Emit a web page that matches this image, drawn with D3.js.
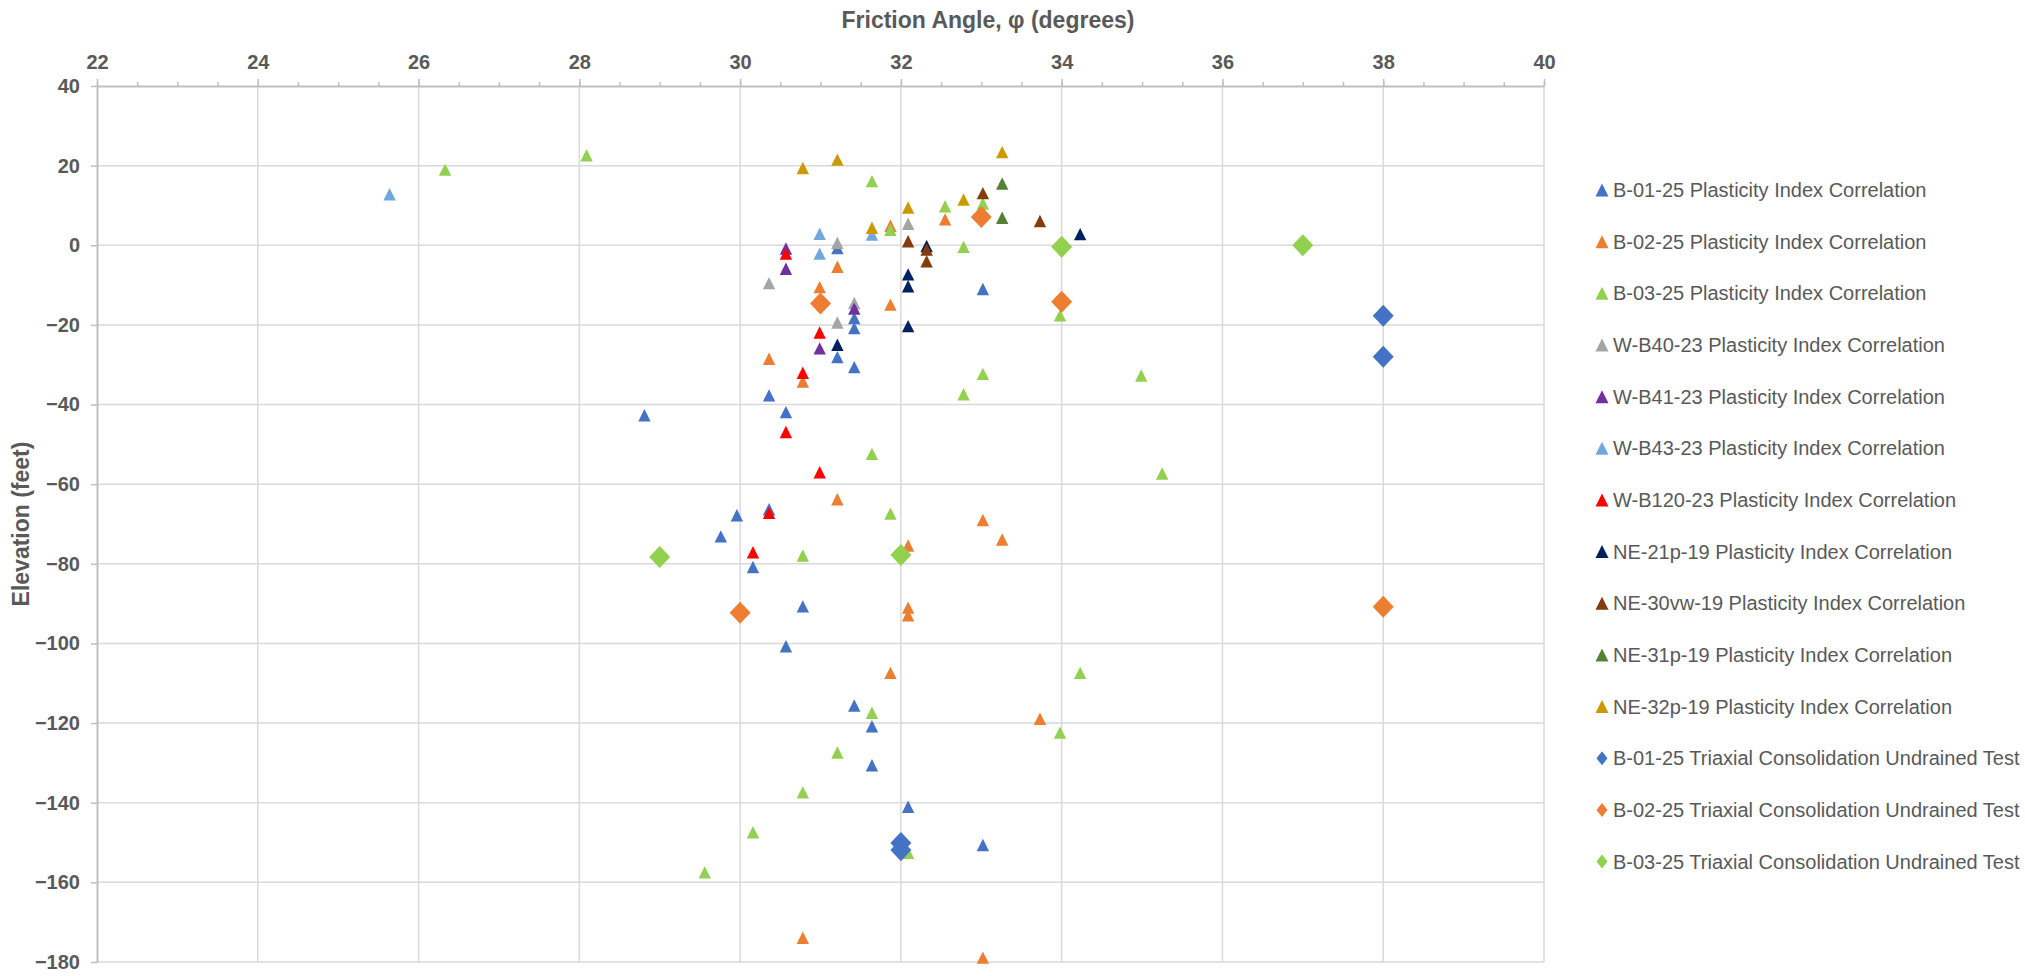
<!DOCTYPE html>
<html>
<head>
<meta charset="utf-8">
<script src="https://cdn.jsdelivr.net/npm/d3@7"></script>
<style>
  body { margin: 0; background: #fff; }
  text { font-family: "Liberation Sans", Arial, sans-serif; fill: #595959; }
  .tick-lbl text { font-weight: bold; }
  .axis-title { font-weight: bold; font-size: 23px; }
  .legend text { font-size: 20px; }
</style>
</head>
<body>
<div id="chart"></div>
<script>
// friction angle (deg), elevation (ft)
var b0125PI = [[28.81,-42.7],[29.76,-73.1],[29.96,-67.8],[30.16,-80.8],[30.36,-37.7],[30.36,-66.3],[30.57,-41.9],[30.57,-100.7],[30.78,-90.7],[31.21,-0.7],[31.21,-28.1],[31.42,-18.3],[31.42,-20.8],[31.42,-30.6],[31.42,-115.6],[31.64,-120.8],[31.64,-130.6],[32.09,-141.0],[33.02,-11.0],[33.02,-150.6]];
var b0225PI = [[30.36,-28.5],[30.78,-34.2],[30.78,-173.9],[30.99,-10.5],[31.21,-5.4],[31.21,-63.8],[31.87,4.9],[31.87,-14.9],[31.87,-107.4],[32.09,-75.4],[32.09,-91.0],[32.09,-92.9],[32.55,6.5],[33.02,-69.0],[33.02,-178.9],[33.26,-73.9],[33.73,-118.9]];
var b0325PI = [[26.33,19.0],[28.09,22.6],[29.56,-157.5],[30.16,-147.4],[30.78,-77.9],[30.78,-137.4],[31.21,-127.4],[31.64,16.1],[31.64,-52.4],[31.64,-117.4],[31.87,3.9],[31.87,-67.4],[32.09,-152.6],[32.55,9.8],[32.78,-0.4],[32.78,-37.4],[33.02,10.5],[33.02,-32.3],[33.98,-17.6],[33.98,-122.4],[34.23,-107.4],[34.99,-32.7],[35.25,-57.3]];
var wb40PI = [[30.36,-9.5],[31.21,0.6],[31.21,-19.4],[31.42,-14.5],[32.09,5.4]];
var wb41PI = [[30.57,-0.8],[30.57,-5.9],[30.99,-25.9],[31.42,-15.9]];
var wb43PI = [[25.64,12.8],[30.99,2.9],[30.99,-2.1],[31.64,2.7]];
var wb120PI = [[30.57,-2.1],[30.78,-32.0],[30.57,-46.9],[30.99,-21.9],[30.99,-57.0],[30.36,-67.2],[30.16,-77.1]];
var ne21PI = [[31.21,-25.0],[32.09,-7.3],[32.09,-10.3],[32.09,-20.3],[32.32,-0.2],[34.23,2.8]];
var ne30PI = [[32.09,1.0],[32.32,-1.1],[32.32,-4.0],[33.02,13.1],[33.73,6.1]];
var ne31PI = [[33.26,15.5],[33.26,6.9]];
var ne32PI = [[30.78,19.4],[31.21,21.5],[31.64,4.4],[32.09,9.5],[32.78,11.5],[33.26,23.4]];
var b0125CU = [[38,-17.7],[38,-28.0],[32,-150.1],[32,-151.9]];
var b0225CU = [[31,-14.6],[33,7.1],[34,-14.2],[30,-92.3],[38,-90.8]];
var b0325CU = [[34,-0.4],[37,0.0],[29,-78.3],[32,-77.8]];

var seriesNames = [
    "B-01-25 Plasticity Index Correlation",
    "B-02-25 Plasticity Index Correlation",
    "B-03-25 Plasticity Index Correlation",
    "W-B40-23 Plasticity Index Correlation",
    "W-B41-23 Plasticity Index Correlation",
    "W-B43-23 Plasticity Index Correlation",
    "W-B120-23 Plasticity Index Correlation",
    "NE-21p-19 Plasticity Index Correlation",
    "NE-30vw-19 Plasticity Index Correlation",
    "NE-31p-19 Plasticity Index Correlation",
    "NE-32p-19 Plasticity Index Correlation",
    "B-01-25 Triaxial Consolidation Undrained Test",
    "B-02-25 Triaxial Consolidation Undrained Test",
    "B-03-25 Triaxial Consolidation Undrained Test"
];
var seriesData = [b0125PI, b0225PI, b0325PI, wb40PI, wb41PI, wb43PI, wb120PI, ne21PI, ne30PI, ne31PI, ne32PI, b0125CU, b0225CU, b0325CU];
var seriesColors = ["#4472C4", "#ED7D31", "#92D050", "#A5A5A5", "#7030A0", "#70A8DE", "#FF0000", "#002060", "#843C0C", "#548235", "#CC9A00", "#4472C4", "#ED7D31", "#92D050"];
var seriesShapes = ["tri", "tri", "tri", "tri", "tri", "tri", "tri", "tri", "tri", "tri", "tri", "dia", "dia", "dia"];

var xTicks = d3.range(22, 41, 2);
var yTicks = d3.range(-180, 41, 20);

var margin = {top: 86, right: 481, bottom: 14, left: 97},
    width = 2025 - margin.left - margin.right,
    height = 976 - margin.top - margin.bottom;

var x = d3.scaleLinear().domain([22, 40]).range([0, width]);
var y = d3.scaleLinear().domain([-180, 40]).range([height, 0]);

var svg = d3.select("#chart").append("svg")
    .attr("width", 2025)
    .attr("height", 976);

var g = svg.append("g")
    .attr("transform", "translate(" + margin.left + "," + margin.top + ")");

// gridlines
g.selectAll(".vgrid")
    .data(xTicks.slice(1))
  .enter().append("line")
    .attr("x1", function(d) { return x(d); })
    .attr("x2", function(d) { return x(d); })
    .attr("y1", 0)
    .attr("y2", height)
    .attr("stroke", "#d9d9d9")
    .attr("stroke-width", 1.5);

g.selectAll(".hgrid")
    .data(yTicks.slice(0, -1))
  .enter().append("line")
    .attr("x1", 0)
    .attr("x2", width)
    .attr("y1", function(d) { return y(d); })
    .attr("y2", function(d) { return y(d); })
    .attr("stroke", "#d9d9d9")
    .attr("stroke-width", 1.5);

// minor ticks on the top axis
var minor = g.append("g")
    .call(d3.axisTop(x).tickValues(d3.range(22, 40.01, 0.5)).tickSize(4).tickFormat(""));
minor.select(".domain").remove();
minor.selectAll("line").attr("stroke", "#bfbfbf").attr("stroke-width", 1.5);

var xAxis = g.append("g")
    .attr("class", "tick-lbl")
    .call(d3.axisTop(x).tickValues(xTicks).tickSizeInner(7).tickSizeOuter(0).tickPadding(10));
var yAxis = g.append("g")
    .attr("class", "tick-lbl")
    .call(d3.axisLeft(y).tickValues(yTicks).tickSizeInner(6).tickSizeOuter(0).tickPadding(11));

[xAxis, yAxis].forEach(function(a) {
    a.select(".domain").attr("stroke", "#bfbfbf").attr("stroke-width", 2);
    a.selectAll(".tick line").attr("stroke", "#bfbfbf").attr("stroke-width", 1.5);
    a.selectAll(".tick text")
        .attr("fill", "#595959")
        .style("font-family", "'Liberation Sans', Arial, sans-serif")
        .style("font-size", "20px");
});

// axis titles (the x title sits right of the plot centre in the original)
svg.append("text")
    .attr("class", "axis-title")
    .attr("x", 988)
    .attr("y", 28)
    .attr("text-anchor", "middle")
    .text("Friction Angle, \u03C6 (degrees)");

svg.append("text")
    .attr("class", "axis-title")
    .attr("transform", "translate(29," + (margin.top + height / 2) + ") rotate(-90)")
    .attr("text-anchor", "middle")
    .text("Elevation (feet)");

var markerPath = function(shape, s) {
    if (shape == "tri") {
        return "M0," + (-s) + "L" + s + "," + s + "L" + (-s) + "," + s + "Z";
    }
    return "M0," + (-s * 1.05) + "L" + s + ",0L0," + (s * 1.05) + "L" + (-s) + ",0Z";
};

// points, drawn series by series so later series sit on top
seriesData.forEach(function(data, i) {
    var size = seriesShapes[i] == "tri" ? 6.2 : 10.5;
    g.append("g").selectAll("path")
        .data(data)
      .enter().append("path")
        .attr("d", markerPath(seriesShapes[i], size))
        .attr("fill", seriesColors[i])
        .attr("transform", function(d) { return "translate(" + x(d[0]) + "," + y(d[1]) + ")"; });
});

// legend
var legend = svg.append("g")
    .attr("class", "legend")
    .attr("transform", "translate(1602,190)");

var item = legend.selectAll("g")
    .data(seriesNames)
  .enter().append("g")
    .attr("transform", function(d, i) { return "translate(0," + (i * 51.66) + ")"; });

item.append("path")
    .attr("d", function(d, i) {
        return seriesShapes[i] == "tri" ? markerPath("tri", 6.5) : "M0,-7L5.5,0L0,7L-5.5,0Z";
    })
    .attr("fill", function(d, i) { return seriesColors[i]; });

item.append("text")
    .attr("x", 11)
    .attr("y", 7)
    .text(function(d) { return d; });
</script>
</body>
</html>
